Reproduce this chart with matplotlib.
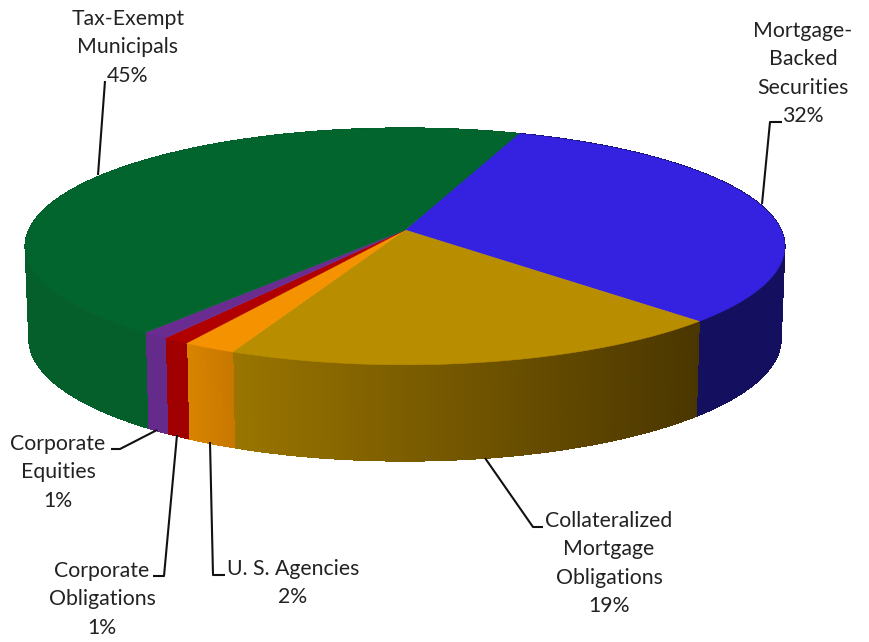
import numpy as np
import matplotlib
matplotlib.use("Agg")
import matplotlib.pyplot as plt
from matplotlib.collections import PolyCollection
from matplotlib.colors import to_rgb

# data, clockwise from the top of the pie
names = ["Mortgage-\nBacked\nSecurities", "Collateralized\nMortgage\nObligations", "U. S. Agencies",
         "Corporate\nObligations", "Corporate\nEquities", "Tax-Exempt\nMunicipals"]
shares = [32, 19, 2, 1, 1, 45]
top_colors = ["#3522E0", "#B88D00", "#F59200", "#B00000", "#6B2C91", "#03652E"]
side_left = ["#14105F", "#9A7500", "#D88400", "#A00000", "#652B8A", "#045F2B"]
side_right = ["#14105F", "#4A3600", "#C87800", "#A00000", "#652B8A", "#045F2B"]

label_x = [803, 609, 293, 102, 58, 128]
label_y = [31, 521, 569, 571, 444, 19]
leaders = [[(762, 204), (770, 122), (782, 122)],
           [(485, 458), (533, 527), (543, 527)],
           [(210, 442), (213, 575), (225, 575)],
           [(177, 435), (164, 576), (153, 576)],
           [(157, 430), (120, 449), (111, 449)],
           [(98, 175), (105, 81)]]

start_angle = 20  # degrees clockwise from top
cx, cy = 405, 230
R, B, k = 376, 116, 0.1393  # perspective of the pie disc
depth = 92
line_step = 28.3
text_color = "#222222"

plt.rcParams['font.family'] = ['Lato', 'DejaVu Sans']


def project(t, bottom=False):
    X = np.sin(t)
    Y = -np.cos(t)
    w = 1 - k * Y
    px = R * X / w
    py = B * Y / w
    if bottom:
        return cx + px * 0.99, cy + depth + py * 1.03
    return cx + px, cy + py


fig = plt.figure(figsize=(8.7, 6.42), dpi=100)
ax = fig.add_axes([0, 0, 1, 1])
ax.set_xlim(0, 870)
ax.set_ylim(642, 0)
ax.axis("off")

edges = start_angle + np.cumsum([0] + shares) * 3.6

# side wall first, the top covers whatever is behind it
for i in range(len(shares)):
    n = max(int((edges[i + 1] - edges[i]) * 3), 2)
    t = np.radians(np.linspace(edges[i], edges[i + 1], n + 1))
    xt, yt = project(t)
    xb, yb = project(t, bottom=True)
    # solid piece under the strips keeps the outer edge smooth
    c_left = np.array(to_rgb(side_left[i]))
    c_right = np.array(to_rgb(side_right[i]))
    ax.fill(np.r_[xt, xb[::-1]], np.r_[yt, yb[::-1]], color=(c_left + c_right) / 2, lw=0.3, zorder=1)
    polys = []
    cols = []
    span = xt.max() - xt.min()
    for j in range(n):
        polys.append([(xt[j], yt[j]), (xt[j + 1], yt[j + 1]), (xb[j + 1], yb[j + 1]), (xb[j], yb[j])])
        f = (xt[j] - xt.min()) / span
        cols.append(c_left + (c_right - c_left) * f)
    ax.add_collection(PolyCollection(polys, facecolors=cols, edgecolors=cols, linewidths=0.5,
                                     antialiaseds=False, zorder=2))

# top of the pie
for i in range(len(shares)):
    n = max(int((edges[i + 1] - edges[i]) * 3), 2)
    t = np.radians(np.linspace(edges[i], edges[i + 1], n + 1))
    xt, yt = project(t)
    ax.fill(np.r_[cx, xt], np.r_[cy, yt], color=top_colors[i], lw=0.4, zorder=3)

# leader lines
for pts in leaders:
    ax.plot([p[0] for p in pts], [p[1] for p in pts], color="#111111", lw=1.5, zorder=4,
            solid_capstyle="butt", solid_joinstyle="round")

# labels, line by line so the spacing stays even
for i in range(len(shares)):
    lines = names[i].split("\n") + [str(shares[i]) + "%"]
    for j, line in enumerate(lines):
        ax.text(label_x[i], label_y[i] + j * line_step, line, ha="center", va="center",
                fontsize=15.3, color=text_color, zorder=5)

fig.savefig("out.png", dpi=100)
